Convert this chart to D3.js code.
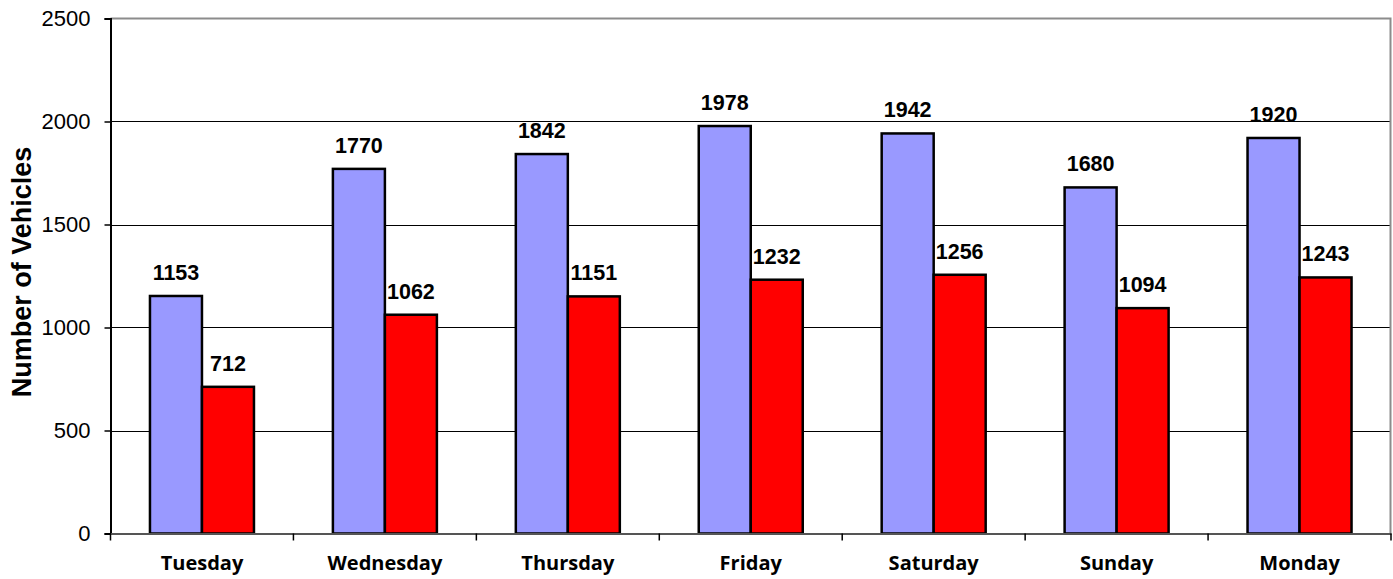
<!DOCTYPE html>
<html><head><meta charset="utf-8">
<script src="https://cdn.jsdelivr.net/npm/d3@7"></script>
<style>body{margin:0;background:#fff}svg{display:block}</style>
</head><body>
<svg id="c" width="1393" height="579"></svg>
<script>
const days = ["Tuesday","Wednesday","Thursday","Friday","Saturday","Sunday","Monday"];
const seriesA = [1153,1770,1842,1978,1942,1680,1920];
const seriesB = [712,1062,1151,1232,1256,1094,1243];
const yTicks = [0,500,1000,1500,2000,2500];
const yTitle = "Number of Vehicles";

const svg = d3.select("#c");
const L = 110.5, R = 1391, T = 18.5, B = 533.5;
const x = d3.scaleBand().domain(days).range([L, R]).paddingInner(0).paddingOuter(0);
const y = d3.scaleLinear().domain([0,2500]).range([B, T]);
const barW = 52;

// gridlines
svg.append("g").selectAll("line").data(yTicks.filter(v=>v>0 && v<2500)).join("line")
  .attr("x1", L).attr("x2", R).attr("y1", d=>Math.round(y(d))+0.5).attr("y2", d=>Math.round(y(d))+0.5)
  .attr("stroke","#000").attr("stroke-width",1);

// plot border top/right
svg.append("path").attr("d", `M${L},${T}H${R-0.5}V${B}`).attr("fill","none").attr("stroke","#8c8c8c").attr("stroke-width",2);

// bars
const g = svg.append("g");
days.forEach((d,i)=>{
  const cx = x(d) + x.bandwidth()/2;
  [[seriesA[i],"#9999FF",cx-barW],[seriesB[i],"#FF0000",cx]].forEach(([v,c,x0])=>{
    g.append("rect").attr("x",x0).attr("y",y(v)).attr("width",barW).attr("height",B-y(v))
      .attr("fill",c).attr("stroke","#000").attr("stroke-width",2.5);
    g.append("text").attr("x",x0+barW/2).attr("y",y(v)-16).attr("text-anchor","middle")
      .attr("font-family","Liberation Sans, Arial, sans-serif").attr("font-weight","bold")
      .attr("font-size",21.5).attr("fill","#000").text(v);
  });
});

// y axis
const ya = svg.append("g").attr("transform",`translate(${L},0)`)
  .call(d3.axisLeft(y).tickValues(yTicks).tickFormat(d3.format("d")).tickSize(6).tickPadding(14));
ya.select(".domain").attr("stroke","#000").attr("stroke-width",2);
ya.selectAll(".tick line").attr("stroke","#000").attr("stroke-width",1.5);
ya.selectAll(".tick text").attr("font-family","Liberation Sans, Arial, sans-serif").attr("font-size",22).attr("fill","#000");

// x axis
const xa = svg.append("g").attr("transform",`translate(0,${B})`)
  .call(d3.axisBottom(x).tickSize(0).tickPadding(22));
xa.select(".domain").attr("stroke","#555").attr("stroke-width",2);
xa.selectAll(".tick text").attr("font-family","Open Sans, sans-serif").attr("font-weight","bold").attr("font-size",20).attr("fill","#000");
// boundary ticks
const bounds = days.map(d=>x(d)).concat([R]);
svg.append("g").selectAll("line").data(bounds).join("line")
  .attr("x1",d=>d).attr("x2",d=>d).attr("y1",B).attr("y2",B+7).attr("stroke","#000").attr("stroke-width",1.5);

// y title
svg.append("text").attr("transform",`translate(31,272) rotate(-90)`).attr("text-anchor","middle")
  .attr("font-family","Liberation Sans, Arial, sans-serif").attr("font-weight","bold").attr("font-size",27)
  .attr("fill","#000").text(yTitle);
</script>
</body></html>
